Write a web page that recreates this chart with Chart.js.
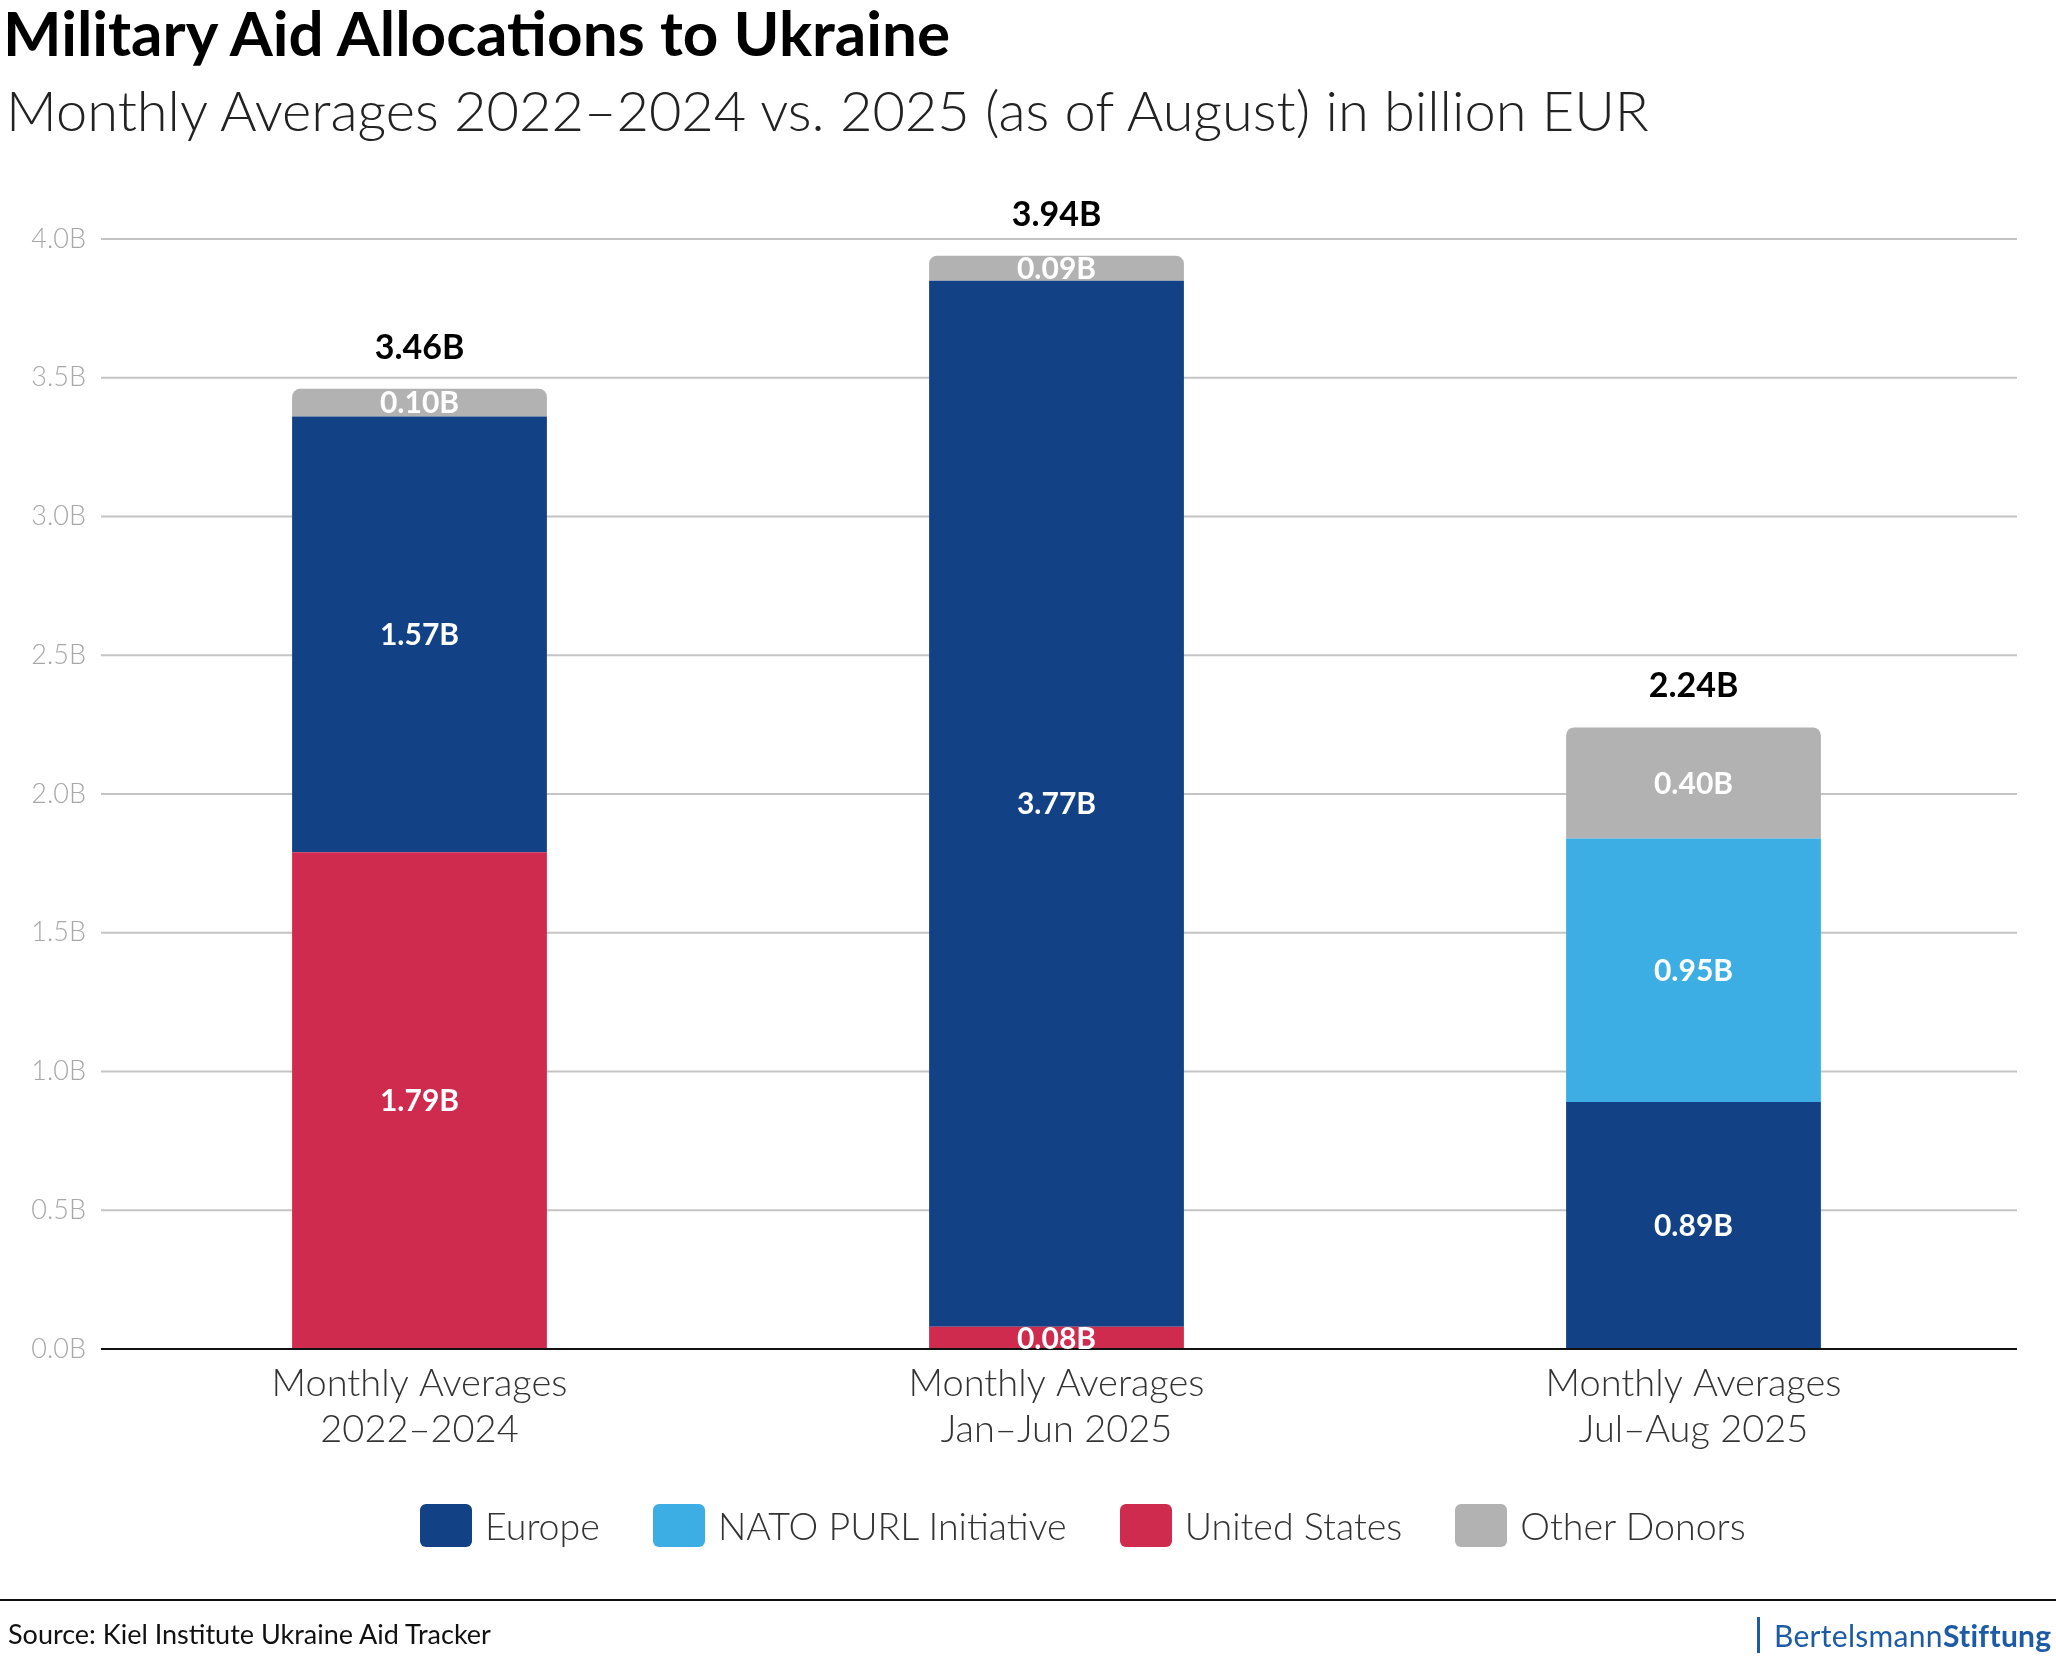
<!DOCTYPE html>
<html>
<head>
<meta charset="utf-8">
<script src="https://cdn.jsdelivr.net/npm/chart.js@4.4.1/dist/chart.umd.min.js"></script>
<style>
  html, body { margin: 0; padding: 0; background: #fff; }
  body { width: 2056px; height: 1662px; position: relative; overflow: hidden; font-family: Lato, sans-serif; }
  #chart-wrap { position: absolute; left: 0; top: 0; width: 2056px; height: 1662px; }
  .title { position: absolute; left: 3px; top: 1px; font-size: 62px; font-weight: 700; line-height: 1; color: #000; white-space: nowrap; }
  .subtitle { position: absolute; left: 6px; top: 82px; font-size: 56px; font-weight: 300; line-height: 1; color: #222; white-space: nowrap; }
  #legend { position: absolute; left: 420px; top: 1504px; display: flex; align-items: center; }
  .legend-item { display: flex; align-items: center; margin-right: 53px; }
  .legend-box { width: 52px; height: 43px; border-radius: 6px; margin-right: 13px; }
  .legend-label { font-size: 37.6px; font-weight: 300; color: #333; line-height: 1; white-space: nowrap; }
  .footer-line { position: absolute; left: 0; top: 1599px; width: 2056px; height: 2px; background: #111; }
  .source { position: absolute; left: 8px; top: 1620px; font-size: 27px; line-height: 1; color: #111; white-space: nowrap; }
  .logo { position: absolute; left: 1757px; top: 1617px; height: 36px; border-left: 3px solid #1d5ba6; padding-left: 14px; font-size: 30px; line-height: 36px; color: #1d5ba6; white-space: nowrap; letter-spacing: 0.3px; }
  .logo b { font-weight: 700; }
</style>
</head>
<body>
<div id="chart-wrap"><canvas id="chart"></canvas></div>
<div class="title">Military Aid Allocations to Ukraine</div>
<div class="subtitle">Monthly Averages 2022–2024 vs. 2025 (as of August) in billion EUR</div>
<div id="legend"></div>
<div class="footer-line"></div>
<div class="source">Source: Kiel Institute Ukraine Aid Tracker</div>
<div class="logo">Bertelsmann<b>Stiftung</b></div>

<script>
const CATEGORIES = [
  ['Monthly Averages', '2022–2024'],
  ['Monthly Averages', 'Jan–Jun 2025'],
  ['Monthly Averages', 'Jul–Aug 2025'],
];

// stacked bottom -> top
const US_VALUES = [1.79, 0.08, 0];
const EUROPE_VALUES = [1.57, 3.77, 0.89];
const NATO_VALUES = [0, 0, 0.95];
const OTHER_VALUES = [0.10, 0.09, 0.40];

const Y_TICKS = [0, 0.5, 1.0, 1.5, 2.0, 2.5, 3.0, 3.5, 4.0];

const COLORS = {
  europe: '#124285',
  nato: '#3daee3',
  us: '#cf2b4e',
  other: '#b2b2b2',
};

const LEGEND_ORDER = [
  { label: 'Europe', color: COLORS.europe },
  { label: 'NATO PURL Initiative', color: COLORS.nato },
  { label: 'United States', color: COLORS.us },
  { label: 'Other Donors', color: COLORS.other },
];

Chart.defaults.font.family = 'Lato';

function renderLegend() {
  const legend = document.getElementById('legend');
  legend.innerHTML = '';
  LEGEND_ORDER.forEach((item) => {
    const el = document.createElement('div');
    el.className = 'legend-item';
    el.innerHTML = `<span class="legend-box" style="background:${item.color}"></span><span class="legend-label">${item.label}</span>`;
    legend.appendChild(el);
  });
}

// round only the top-most non-empty segment of each stack
function topRadius(ctx) {
  const datasets = ctx.chart.data.datasets;
  const i = ctx.datasetIndex;
  const j = ctx.dataIndex;
  if (!datasets[i].data[j]) return 0;
  for (let k = i + 1; k < datasets.length; k++) {
    if (datasets[k].data[j] > 0) return 0;
  }
  return { topLeft: 8, topRight: 8, bottomLeft: 0, bottomRight: 0 };
}

// horizontal grid, drawn a little past the plot's right edge like the original
const GRID_OVERHANG = 5;
const gridLines = {
  id: 'gridLines',
  beforeDatasetsDraw(chart) {
    const { ctx, chartArea } = chart;
    const yScale = chart.scales.y;
    ctx.save();
    ctx.strokeStyle = '#c4c4c4';
    ctx.lineWidth = 2;
    yScale.ticks.forEach((t) => {
      if (t.value === 0) return;
      const y = yScale.getPixelForValue(t.value);
      ctx.beginPath();
      ctx.moveTo(chartArea.left, y);
      ctx.lineTo(chartArea.right + GRID_OVERHANG, y);
      ctx.stroke();
    });
    ctx.restore();
  },
};

const barLabels = {
  id: 'barLabels',
  afterDatasetsDraw(chart) {
    const { ctx, chartArea } = chart;
    const yScale = chart.scales.y;
    ctx.save();

    // zero line on top of the bars
    const y0 = yScale.getPixelForValue(0);
    ctx.strokeStyle = '#111';
    ctx.lineWidth = 2;
    ctx.beginPath();
    ctx.moveTo(chartArea.left, y0);
    ctx.lineTo(chartArea.right + GRID_OVERHANG, y0);
    ctx.stroke();

    ctx.textAlign = 'center';
    ctx.textBaseline = 'middle';
    chart.data.datasets.forEach((ds, i) => {
      const meta = chart.getDatasetMeta(i);
      meta.data.forEach((bar, j) => {
        const v = ds.data[j];
        if (!v) return;
        ctx.fillStyle = '#fff';
        ctx.font = 'bold 30px Lato';
        ctx.fillText(`${v.toFixed(2)}B`, bar.x, (bar.y + bar.base) / 2 + 1);
      });
    });

    // totals above each stack
    const xMeta = chart.getDatasetMeta(0);
    CATEGORIES.forEach((c, j) => {
      const total = chart.data.datasets.reduce((s, ds) => s + (ds.data[j] || 0), 0);
      const yTop = yScale.getPixelForValue(total);
      ctx.fillStyle = '#000';
      ctx.font = 'bold 34px Lato';
      ctx.fillText(`${total.toFixed(2)}B`, xMeta.data[j].x, yTop - 41);
    });
    ctx.restore();
  },
};

function renderChart() {
  const canvas = document.getElementById('chart');
  const mkDataset = (label, data, color) => ({
    label,
    data,
    backgroundColor: color,
    borderWidth: 0,
    borderRadius: topRadius,
    borderSkipped: 'start',
    barPercentage: 0.4,
    categoryPercentage: 1.0,
  });

  new Chart(canvas, {
    type: 'bar',
    data: {
      labels: CATEGORIES,
      datasets: [
        mkDataset('United States', US_VALUES, COLORS.us),
        mkDataset('Europe', EUROPE_VALUES, COLORS.europe),
        mkDataset('NATO PURL Initiative', NATO_VALUES, COLORS.nato),
        mkDataset('Other Donors', OTHER_VALUES, COLORS.other),
      ],
    },
    options: {
      responsive: true,
      maintainAspectRatio: false,
      animation: false,
      layout: { padding: { top: 239, right: 44, bottom: 193, left: 0 } },
      plugins: {
        legend: { display: false },
        tooltip: { enabled: false },
      },
      scales: {
        x: {
          stacked: true,
          grid: { display: false, drawTicks: false },
          border: { display: false },
          ticks: {
            color: '#333',
            padding: 12,
            maxRotation: 0,
            font: { size: 38, weight: '300', lineHeight: 1.2 },
          },
          afterFit: (s) => { s.height = 120; },
        },
        y: {
          stacked: true,
          min: Y_TICKS[0],
          max: Y_TICKS[Y_TICKS.length - 1],
          afterBuildTicks: (s) => { s.ticks = Y_TICKS.map(v => ({ value: v })); },
          grid: { display: false, drawTicks: false },
          border: { display: false },
          ticks: {
            color: '#a8a8a8',
            padding: 15,
            font: { size: 27, weight: '300' },
            callback: v => `${Number(v).toFixed(1)}B`,
          },
          afterFit: (s) => { s.width = 101; },
        },
      },
    },
    plugins: [gridLines, barLabels],
  });
}

renderLegend();
renderChart();
</script>
</body>
</html>
